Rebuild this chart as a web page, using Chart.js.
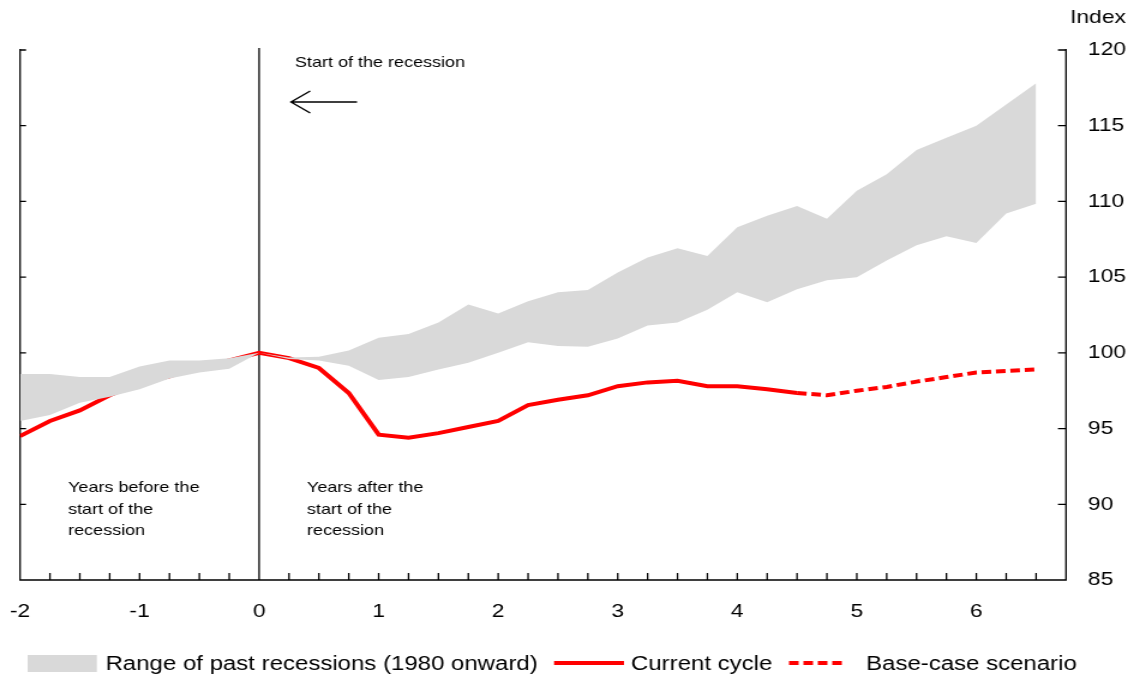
<!DOCTYPE html>
<html>
<head>
<meta charset="utf-8">
<script src="https://cdn.jsdelivr.net/npm/chart.js@4.4.1/dist/chart.umd.min.js"></script>
<style>
    body { margin: 0; background: #fff; overflow: hidden; }
    /* the source picture is stretched sideways, so draw narrow and widen */
    #myChart { display: block; transform: scaleX(1.2); transform-origin: 0 0; }
</style>
</head>
<body>
<canvas id="myChart" width="946" height="679"></canvas>
<script>

// quarters relative to the start of the recession
const quarters = [-2, -1.75, -1.5, -1.25, -1, -0.75, -0.5, -0.25, 0, 0.25, 0.5, 0.75,
    1, 1.25, 1.5, 1.75, 2, 2.25, 2.5, 2.75, 3, 3.25, 3.5, 3.75, 4, 4.25, 4.5,
    4.75, 5, 5.25, 5.5, 5.75, 6, 6.25, 6.5];

const rangeHigh = [98.6, 98.6, 98.4, 98.4, 99.1, 99.5, 99.5, 99.65, 100, 99.7, 99.75, 100.15,
    101.0, 101.25, 102.0, 103.2, 102.6, 103.4, 104.0, 104.15, 105.3, 106.3, 106.9, 106.4, 108.3, 109.05, 109.7,
    108.85, 110.7, 111.8, 113.4, 114.2, 115.0, 116.4, 117.8];

const rangeLow = [95.5, 95.9, 96.7, 97.1, 97.6, 98.3, 98.7, 98.95, 100, 99.6, 99.5, 99.15,
    98.2, 98.4, 98.9, 99.35, 100.0, 100.7, 100.45, 100.4, 100.95, 101.8, 102.0, 102.85, 104.0, 103.35, 104.2,
    104.8, 105.0, 106.1, 107.1, 107.7, 107.25, 109.2, 109.85];

// -2 .. 4.5
const currentCycle = [94.5, 95.5, 96.2, 97.2, 98.0, 98.45, 99.1, 99.5, 100, 99.65, 99.0, 97.35,
    94.6, 94.4, 94.7, 95.1, 95.5, 96.55, 96.9, 97.2, 97.8, 98.05, 98.15, 97.8, 97.8, 97.6, 97.35];

// 4.5 .. 6.5
const baseCase = [97.35, 97.2, 97.5, 97.75, 98.1, 98.4, 98.7, 98.8, 98.9];

const xLabels = [-2, -1, 0, 1, 2, 3, 4, 5, 6];
const yLabels = [85, 90, 95, 100, 105, 110, 115, 120];

const FONT = '"Liberation Sans", Arial, sans-serif';

function points(xs, ys){
    return ys.map((v, i) => ({x: xs[i], y: v}));
}

const axesPlugin = {
    id: 'axes',
    beforeDatasetsDraw(chart){
        const {ctx, chartArea: a, scales: {x, y}} = chart;
        ctx.save();
        ctx.strokeStyle = '#000';
        ctx.lineWidth = 1.3;
        ctx.beginPath();
        ctx.moveTo(a.left, a.top - 1);
        ctx.lineTo(a.left, a.bottom);
        ctx.lineTo(a.right, a.bottom);
        ctx.lineTo(a.right, a.top - 1);
        const x0 = x.getPixelForValue(0);
        ctx.moveTo(x0, a.top - 2);
        ctx.lineTo(x0, a.bottom);
        yLabels.forEach(v => {
            const py = y.getPixelForValue(v);
            ctx.moveTo(a.left, py);
            ctx.lineTo(a.left + 5, py);
            ctx.moveTo(a.right, py);
            ctx.lineTo(a.right - 6.7, py);
        });
        quarters.forEach(q => {
            const px = x.getPixelForValue(q);
            ctx.moveTo(px, a.bottom);
            ctx.lineTo(px, a.bottom - 7);
        });
        ctx.stroke();
        ctx.restore();
    },
    afterDraw(chart){
        const ctx = chart.ctx;
        ctx.save();
        ctx.fillStyle = '#000';
        ctx.textBaseline = 'middle';
        ctx.textAlign = 'left';

        ctx.font = '15px ' + FONT;
        ctx.fillText('Start of the recession', 245.8, 63);
        ['Years before the', 'start of the', 'recession'].forEach((t, i) => {
            ctx.fillText(t, 56.7, 488 + i * 21.5);
        });
        ['Years after the', 'start of the', 'recession'].forEach((t, i) => {
            ctx.fillText(t, 255.8, 488 + i * 21.5);
        });

        // arrow pointing at the recession line
        ctx.strokeStyle = '#000';
        ctx.lineWidth = 1.4;
        ctx.beginPath();
        ctx.moveTo(297.5, 102);
        ctx.lineTo(242.5, 102);
        ctx.moveTo(258.5, 91);
        ctx.lineTo(242.5, 102);
        ctx.lineTo(258.5, 113);
        ctx.stroke();

        ctx.font = '19px ' + FONT;
        ctx.textAlign = 'center';
        ctx.fillText('Index', 915, 18);

        // legend
        ctx.textAlign = 'left';
        ctx.font = '20px ' + FONT;
        ctx.fillStyle = '#d9d9d9';
        ctx.fillRect(23, 655, 57.7, 17);
        ctx.fillStyle = '#000';
        ctx.fillText('Range of past recessions (1980 onward)', 87.9, 664);

        ctx.strokeStyle = '#ff0000';
        ctx.lineWidth = 4;
        ctx.beginPath();
        ctx.moveTo(461.7, 663);
        ctx.lineTo(520, 663);
        ctx.stroke();
        ctx.fillText('Current cycle', 525.8, 664);

        ctx.setLineDash([8, 4]);
        ctx.beginPath();
        ctx.moveTo(657.5, 663);
        ctx.lineTo(705, 663);
        ctx.stroke();
        ctx.setLineDash([]);
        ctx.fillText('Base-case scenario', 721.7, 664);
        ctx.restore();
    }
};

function createChart(){
    const ctx = document.getElementById('myChart').getContext('2d');
    const myChart = new Chart(ctx, {
        type: 'line',
        data: {
            datasets: [
                {
                    label: 'Range of past recessions (1980 onward)',
                    data: points(quarters, rangeHigh),
                    borderWidth: 0,
                    pointRadius: 0,
                    backgroundColor: '#d9d9d9',
                    fill: '+1',
                    tension: 0
                },
                {
                    label: 'range low',
                    data: points(quarters, rangeLow),
                    borderWidth: 0,
                    pointRadius: 0,
                    fill: false,
                    tension: 0
                },
                {
                    label: 'Current cycle',
                    data: points(quarters, currentCycle),
                    borderColor: '#ff0000',
                    borderWidth: 4,
                    pointRadius: 0,
                    fill: false,
                    tension: 0
                },
                {
                    label: 'Base-case scenario',
                    data: points(quarters.slice(26), baseCase),
                    borderColor: '#ff0000',
                    borderWidth: 4,
                    borderDash: [8, 4],
                    pointRadius: 0,
                    fill: false,
                    tension: 0
                }
            ]
        },
        options: {
            responsive: false,
            animation: false,
            layout: {
                padding: {left: 16.7, top: 50, right: 0, bottom: 0}
            },
            plugins: {
                legend: {display: false},
                tooltip: {enabled: false}
            },
            scales: {
                x: {
                    type: 'linear',
                    min: -2,
                    max: 6.75,
                    grid: {display: false, drawTicks: false},
                    border: {display: false},
                    afterBuildTicks: scale => { scale.ticks = xLabels.map(v => ({value: v})); },
                    afterFit: scale => {
                        scale.height = 99;
                        scale.paddingLeft = 0;
                        scale.paddingRight = 0;
                    },
                    ticks: {
                        color: '#000',
                        font: {family: FONT, size: 19},
                        padding: 20,
                        maxRotation: 0,
                        autoSkip: false
                    }
                },
                y: {
                    position: 'right',
                    min: 85,
                    max: 120,
                    grid: {display: false, drawTicks: false},
                    border: {display: false},
                    afterBuildTicks: scale => { scale.ticks = yLabels.map(v => ({value: v})); },
                    afterFit: scale => { scale.width = 57.7; },
                    ticks: {
                        color: '#000',
                        font: {family: FONT, size: 19},
                        padding: 18.3
                    }
                }
            }
        },
        plugins: [axesPlugin]
    });
}

createChart()
</script>
</body>
</html>
